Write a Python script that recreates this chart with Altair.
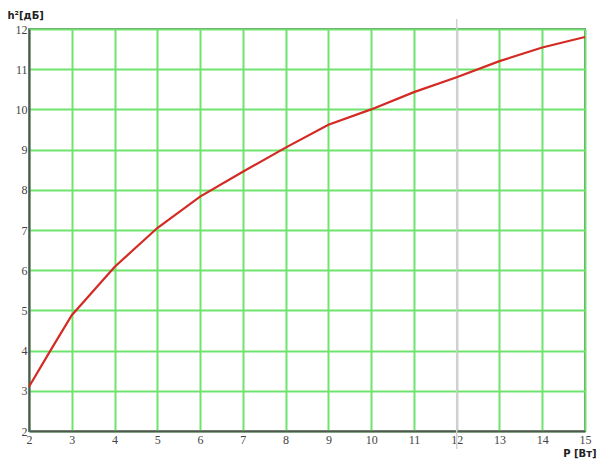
import altair as alt
import pandas as pd

# data
p_values = [2, 2.5, 3, 4, 5, 6, 7, 8, 9, 10, 11, 12, 13, 14, 15]
h2_values = [3.1, 4.0, 4.88, 6.08, 7.05, 7.83, 8.45, 9.05, 9.62, 10.0, 10.43, 10.8, 11.2, 11.54, 11.8]
x_ticks = list(range(2, 16))
y_ticks = list(range(2, 13))
highlight_x = [12]

df = pd.DataFrame({"P": p_values, "h2": h2_values})
hl = pd.DataFrame({"P": highlight_x})

W, H = 556, 402
GREEN = "#6ee36e"
FRAME = "#7a7a7a"
TXT = "#444444"

xscale = alt.Scale(domain=[2, 15], nice=False, zero=False)
yscale = alt.Scale(domain=[2, 12], nice=False, zero=False)

xaxis = alt.Axis(
    values=x_ticks, grid=True,
    gridColor={"condition": {"test": "datum.value === 12", "value": "#d0d0d0"}, "value": GREEN},
    gridWidth=2, gridOpacity=1,
    ticks=False, domainColor="#555555", domainWidth=2,
    labelFont="Liberation Serif", labelFontSize=12, labelColor=TXT, labelPadding=3,
    labelFlush=False,
    title="P [Вт]", titleFont="DejaVu Sans", titleFontSize=10, titleFontWeight="bold",
    titleColor="#222222", titleX=W + 11, titleY=22, titleAlign="right", titleBaseline="middle",
)
yaxis = alt.Axis(
    values=y_ticks, grid=True, gridColor=GREEN, gridWidth=2, gridOpacity=1,
    ticks=False, domainColor="#555555", domainWidth=2,
    labelFont="Liberation Serif", labelFontSize=12, labelColor=TXT, labelPadding=2,
    labelFlush=False,
    title="h²[дБ]", titleFont="DejaVu Sans", titleFontSize=10, titleFontWeight="bold",
    titleColor="#222222", titleAngle=0, titleX=-22, titleY=-14, titleAlign="left",
    titleBaseline="middle",
)

line = alt.Chart(df).mark_line(color="#d42a24", strokeWidth=2.2).encode(
    x=alt.X("P:Q", scale=xscale, axis=xaxis),
    y=alt.Y("h2:Q", scale=yscale, axis=yaxis),
)

rule12 = alt.Chart(hl).mark_rule(color="#d0d0d0", strokeWidth=1.5).encode(
    x=alt.X("P:Q", scale=xscale),
    y=alt.value(-10),
    y2=alt.value(H + 18),
)

chart = alt.layer(rule12, line).properties(
    width=W, height=H,
    autosize="none",
    padding={"left": 21, "top": 21, "right": 12, "bottom": 28},
).configure_view(stroke=FRAME, strokeWidth=2)

chart.save("out.html", embed_options={"renderer": "svg", "actions": False})
